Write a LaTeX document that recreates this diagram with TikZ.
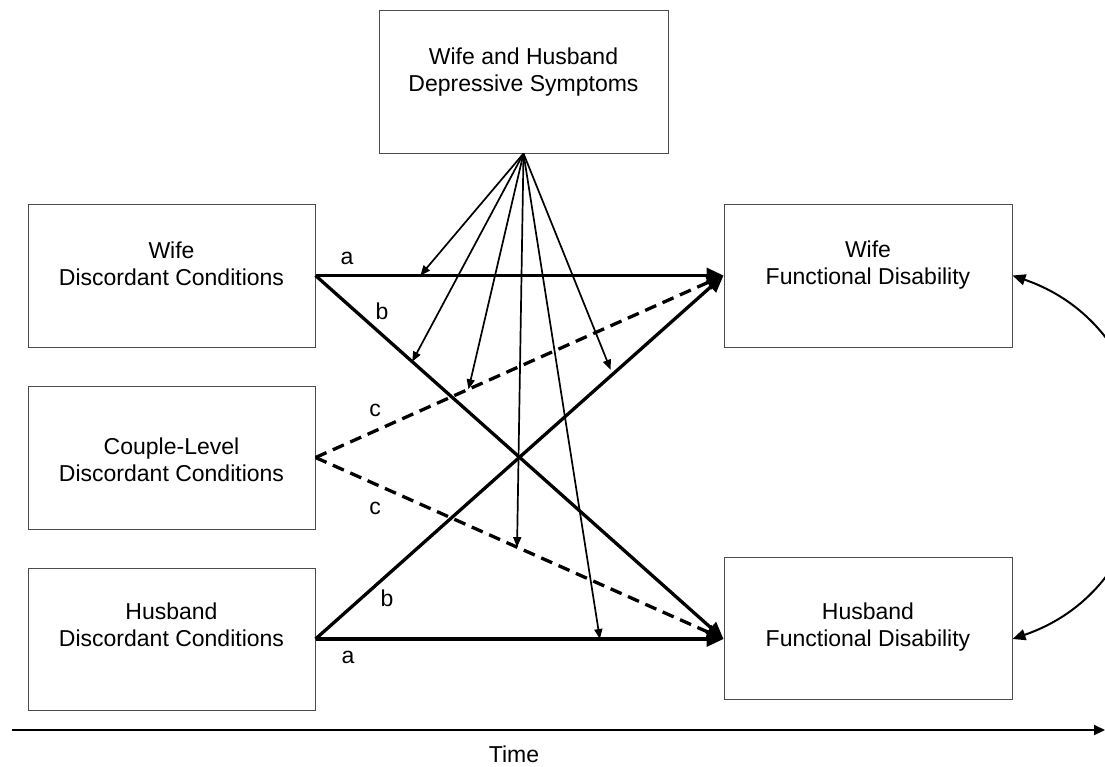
\documentclass[tikz,border=0pt]{standalone}
\usepackage{fontspec}
\setmainfont{Liberation Sans}
\usetikzlibrary{arrows.meta}
\begin{document}
\begin{tikzpicture}[x=1pt,y=-1pt,
  box/.style={draw=black!70, line width=1pt, rectangle, inner sep=0pt, minimum width=287pt, minimum height=142pt},
  txt/.style={font=\fontsize{23}{27}\selectfont, align=center, inner sep=0pt},
  lab/.style={font=\fontsize{23}{27}\selectfont, inner sep=0pt},
  main/.style={line width=3.3pt, -{Triangle[length=17pt,width=15pt]}},
  dashline/.style={main, dash pattern=on 12pt off 7pt},
  thinarrow/.style={line width=1.7pt, -{Triangle[length=10pt,width=8pt]}},
  curvearrow/.style={line width=2pt, {Triangle[length=13pt,width=11pt]}-{Triangle[length=13pt,width=11pt]}},
  timearrow/.style={line width=2pt, -{Triangle[length=11pt,width=10pt]}}]
\useasboundingbox (0,0) rectangle (1105,766);
\fill[white] (0,0) rectangle (1105,766);

% boxes
\node[box, minimum width=289pt, minimum height=143pt] (dep) at (523.5,81.5) {};
\node[box, minimum height=143pt] (wdc) at (171.5,275.5) {};
\node[box, minimum height=143pt] (cdc) at (171.5,457.5) {};
\node[box] (hdc) at (171.5,639) {};
\node[box, minimum width=288pt, minimum height=143pt] (wfd) at (868,275.5) {};
\node[box, minimum width=288pt] (hfd) at (868,628) {};

% box texts
\node[txt] (dept) at (523.5,73) {\strut Wife and Husband\\\strut Depressive Symptoms};
\node[txt] (wdct) at (171.5,266.5) {\strut Wife\\\strut Discordant Conditions};
\node[txt] (cdct) at (171.5,463) {\strut Couple-Level\\\strut Discordant Conditions};
\node[txt] (hdct) at (171.5,628) {\strut Husband\\\strut Discordant Conditions};
\node[txt] (wfdt) at (868,266) {\strut Wife\\\strut Functional Disability};
\node[txt] (hfdt) at (868,628) {\strut Husband\\\strut Functional Disability};

\coordinate (hin) at (hfd.west |- hdc.east);

% main paths
\draw[main] (wdc.east) -- coordinate[pos=0.257] (pa1) (wfd.west);
\draw[main] (wdc.east) -- coordinate[pos=0.237] (pb1) (hin);
\draw[dashline] (cdc.east) -- coordinate[pos=0.375] (pc1) (wfd.west);
\draw[dashline] (cdc.east) -- coordinate[pos=0.494] (pc2) (hin);
\draw[main] (hdc.east) -- coordinate[pos=0.728] (pb2) (wfd.west);
\draw[main] (hdc.east) -- coordinate[pos=0.697] (pa2) (hin);

% moderation arrows
\draw[thinarrow] (dep.south) -- (pa1);
\draw[thinarrow] (dep.south) -- (pb1);
\draw[thinarrow] (dep.south) -- (pc1);
\draw[thinarrow] (dep.south) -- (pc2);
\draw[thinarrow] (dep.south) -- (pa2);
\draw[thinarrow, shorten >=5pt] (dep.south) -- (pb2);

% path labels
\node[lab] (la1) at (347,258) {a};
\node[lab] (lb1) at (382,311) {b};
\node[lab] (lc1) at (375,410) {c};
\node[lab] (lc2) at (375,508) {c};
\node[lab] (lb2) at (387,598) {b};
\node[lab] (la2) at (348,657) {a};

% covariance
\draw[curvearrow] (wfd.east) to[out=-19,in=19,looseness=1.29] (hfd.east |- hin);

% time axis
\coordinate (t0) at (12,730);
\coordinate (t1) at (1105,730);
\draw[timearrow] (t0) -- (t1);
\node[lab] (time) at (514,754) {Time};
\end{tikzpicture}
\end{document}
